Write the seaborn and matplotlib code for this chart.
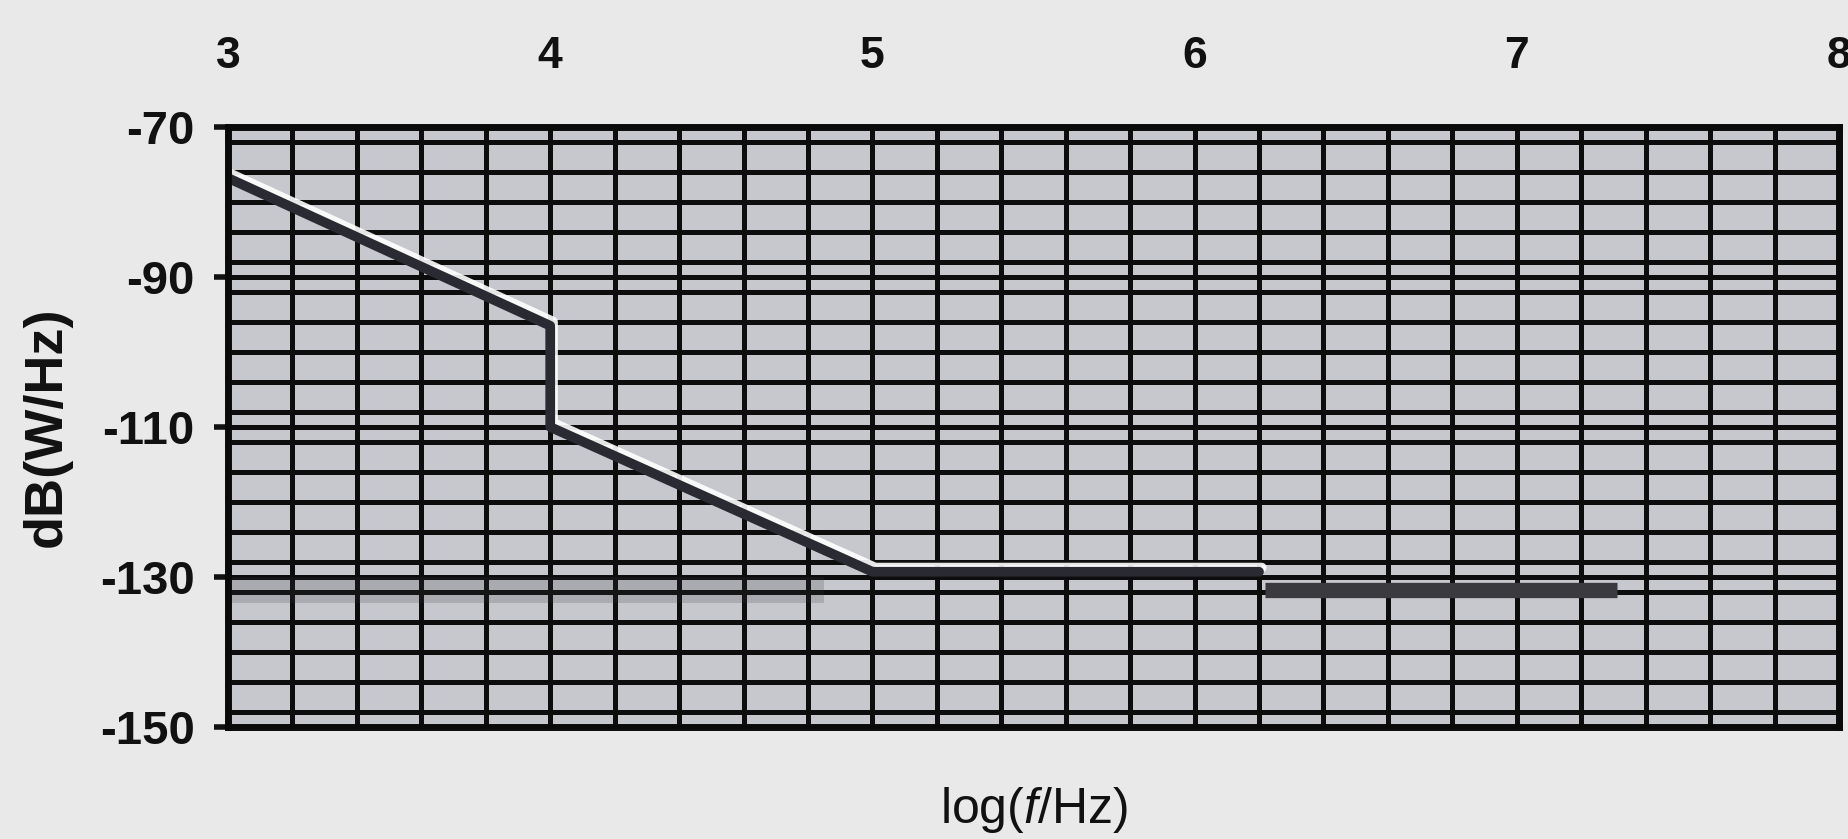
import numpy as np
import pandas as pd
import matplotlib
matplotlib.use("Agg")
import matplotlib.pyplot as plt
import seaborn as sns
from matplotlib import patheffects as pe
from matplotlib.ticker import FixedLocator, MultipleLocator

# Spectrum (x = log10 of frequency, y = dB(W/Hz))
log_f = [3.0, 4.0, 4.0, 5.0, 6.2]
psd_db = [-76.8, -96.5, -110.0, -129.3, -129.3]

# thick grey step at the end of the spectrum
step_log_f = [6.22, 7.31]
step_db = [-131.7, -131.7]

# faint smudge along -130 dB on the left (print bleed in the scan)
smudge_log_f = [3.0, 4.85]
smudge_top = [-130.0, -130.0]
smudge_bottom = [-133.5, -133.5]

x_ticks = [3, 4, 5, 6, 7, 8]
y_ticks = [-150, -130, -110, -90, -70]

sns.set_theme(style="white")
plt.rcParams["font.family"] = ["Liberation Sans", "DejaVu Sans"]
plt.rcParams["axes.unicode_minus"] = False
plt.rcParams["mathtext.fontset"] = "custom"
plt.rcParams["mathtext.rm"] = "Liberation Sans"
plt.rcParams["mathtext.it"] = "Liberation Sans:italic"

fig = plt.figure(figsize=(18.48, 8.39), dpi=100, facecolor="#e9e9e9")
ax = fig.add_axes([0.1234, 0.1335, 0.8717, 0.7151])
ax.set_facecolor("#c6c8cd")

ax.fill_between(smudge_log_f, smudge_bottom, smudge_top, color="#3a3a44", alpha=0.2, lw=0, zorder=1)

curve = pd.DataFrame({"log_f": log_f, "dB": psd_db})
sns.lineplot(data=curve, x="log_f", y="dB", estimator=None, sort=False, ax=ax,
             color="#2a2a33", lw=7, zorder=2,
             path_effects=[pe.SimpleLineShadow(offset=(2, 3), shadow_color="white", alpha=0.9),
                           pe.Normal()])

step = pd.DataFrame({"log_f": step_log_f, "dB": step_db})
sns.lineplot(data=step, x="log_f", y="dB", estimator=None, sort=False, ax=ax,
             color="#3b3a3f", lw=11, solid_capstyle="butt", zorder=3)

ax.set_xlim(3, 8)
ax.set_ylim(-150, -70)

ax.xaxis.set_major_locator(FixedLocator(x_ticks))
ax.xaxis.set_minor_locator(MultipleLocator(0.2))
ax.yaxis.set_major_locator(FixedLocator(y_ticks))
ax.yaxis.set_minor_locator(MultipleLocator(4))
ax.set_xticklabels([str(t) for t in x_ticks], fontweight="bold", color="#111111")
ax.set_yticklabels([str(t) for t in y_ticks], fontweight="bold", color="#111111")

ax.grid(which="both", color="#0d0d0d", lw=3.6)

ax.tick_params(axis="x", which="both", top=True, labeltop=True, bottom=False,
               labelbottom=False, length=0, pad=36, labelsize=32)
ax.tick_params(axis="y", which="major", left=True, length=10, width=4,
               direction="out", color="#111111", pad=14, labelsize=34)
ax.tick_params(axis="y", which="minor", length=0)

for side in ["left", "right", "top", "bottom"]:
    ax.spines[side].set_visible(True)
    ax.spines[side].set_color("#0a0a0a")
    ax.spines[side].set_linewidth(5)

ax.xaxis.set_label_position("bottom")
ax.set_xlabel(r"log($\mathit{f}$/Hz)", fontsize=36, labelpad=42, color="#111111")
ax.set_ylabel("dB(W/Hz)", fontsize=39, fontweight="bold", labelpad=20, color="#111111")

fig.savefig("out.png", dpi=100, facecolor=fig.get_facecolor())
